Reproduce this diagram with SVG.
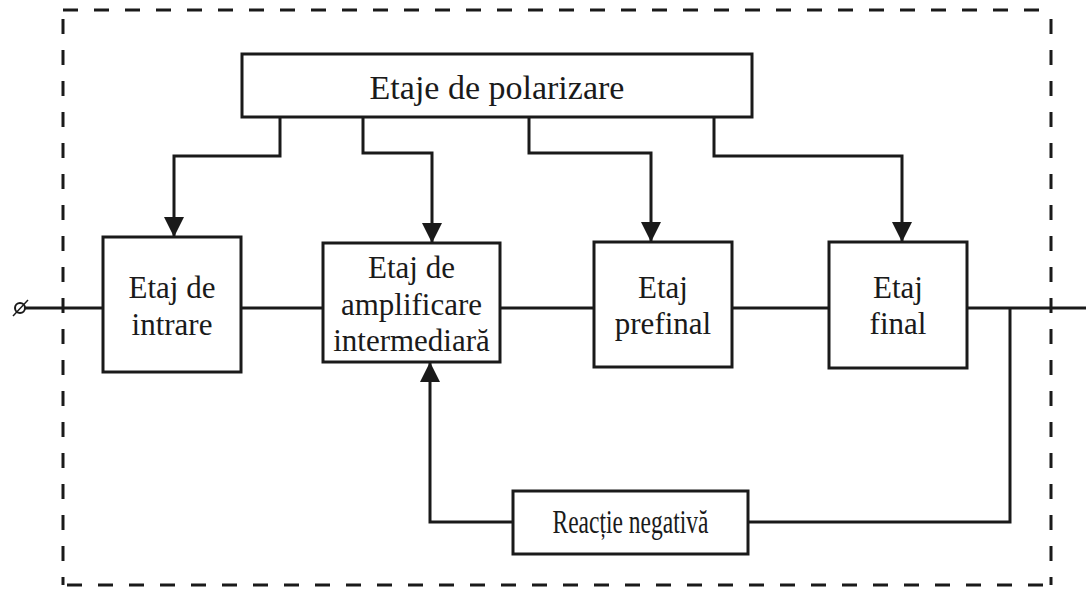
<svg xmlns="http://www.w3.org/2000/svg" width="1086" height="589" viewBox="0 0 1086 589">
  <defs>
    <style>
      .box { fill: #ffffff; stroke: #1a1a1a; stroke-width: 3; }
      .wire { fill: none; stroke: #1a1a1a; stroke-width: 3; }
      .dash { fill: none; stroke: #1a1a1a; stroke-width: 3; stroke-dasharray: 15 16; }
      .lbl { font-family: "Liberation Serif", "Times New Roman", serif; font-size: 31px; fill: #1a1a1a; text-anchor: middle; }
    </style>
    <marker id="arr" viewBox="0 0 20 20" refX="20" refY="10" markerWidth="20" markerHeight="20" markerUnits="userSpaceOnUse" orient="auto">
      <path d="M0,0 L20,10 L0,20 Z" fill="#1a1a1a"/>
    </marker>
  </defs>
  <rect width="1086" height="589" fill="#ffffff"/>

  <g id="border">
    <line class="dash" x1="63" y1="10" x2="1050" y2="10"/>
    <line class="dash" x1="63" y1="19" x2="63" y2="585"/>
    <line class="dash" x1="1051" y1="19" x2="1051" y2="585"/>
    <line class="dash" x1="67" y1="585" x2="1050" y2="585"/>
  </g>

  <g id="connectors">
    <path class="wire" d="M280,117 V156 H174 V237" marker-end="url(#arr)"/>
    <path class="wire" d="M363,117 V153 H432 V243" marker-end="url(#arr)"/>
    <path class="wire" d="M529,117 V153 H651 V242" marker-end="url(#arr)"/>
    <path class="wire" d="M714,117 V156 H902 V242" marker-end="url(#arr)"/>
    <line class="wire" x1="25" y1="308" x2="103" y2="308"/>
    <line class="wire" x1="241" y1="308" x2="323" y2="308"/>
    <line class="wire" x1="500" y1="308" x2="594" y2="308"/>
    <line class="wire" x1="732" y1="308" x2="829" y2="308"/>
    <line class="wire" x1="967" y1="308" x2="1086" y2="308"/>
    <path class="wire" d="M1010,308 V522 H748"/>
    <path class="wire" d="M513,522 H430 V362" marker-end="url(#arr)"/>
    <g id="input-terminal">
      <circle cx="20" cy="308" r="5" fill="none" stroke="#1a1a1a" stroke-width="2"/>
      <line x1="13" y1="316" x2="28" y2="300" stroke="#1a1a1a" stroke-width="1.5"/>
    </g>
  </g>

  <g id="polarizare">
    <rect class="box" x="242" y="54" width="510" height="63"/>
    <text class="lbl" x="497" y="99" style="font-size:34px">Etaje de polarizare</text>
  </g>
  <g id="intrare">
    <rect class="box" x="103" y="237" width="138" height="135"/>
    <text class="lbl" x="172" y="298">Etaj de</text>
    <text class="lbl" x="172" y="335">intrare</text>
  </g>
  <g id="amplificare">
    <rect class="box" x="323" y="243" width="177" height="119"/>
    <text class="lbl" x="411.5" y="278">Etaj de</text>
    <text class="lbl" x="411.5" y="315">amplificare</text>
    <text class="lbl" x="411.5" y="351">intermediară</text>
  </g>
  <g id="prefinal">
    <rect class="box" x="594" y="242" width="138" height="125"/>
    <text class="lbl" x="663" y="298">Etaj</text>
    <text class="lbl" x="663" y="334">prefinal</text>
  </g>
  <g id="final">
    <rect class="box" x="829" y="242" width="138" height="126"/>
    <text class="lbl" x="898" y="298">Etaj</text>
    <text class="lbl" x="898" y="334">final</text>
  </g>
  <g id="reactie">
    <rect class="box" x="513" y="491" width="235" height="63"/>
    <text class="lbl" x="630.5" y="533" style="font-size:34px" textLength="156" lengthAdjust="spacingAndGlyphs">Reacție negativă</text>
  </g>
</svg>
